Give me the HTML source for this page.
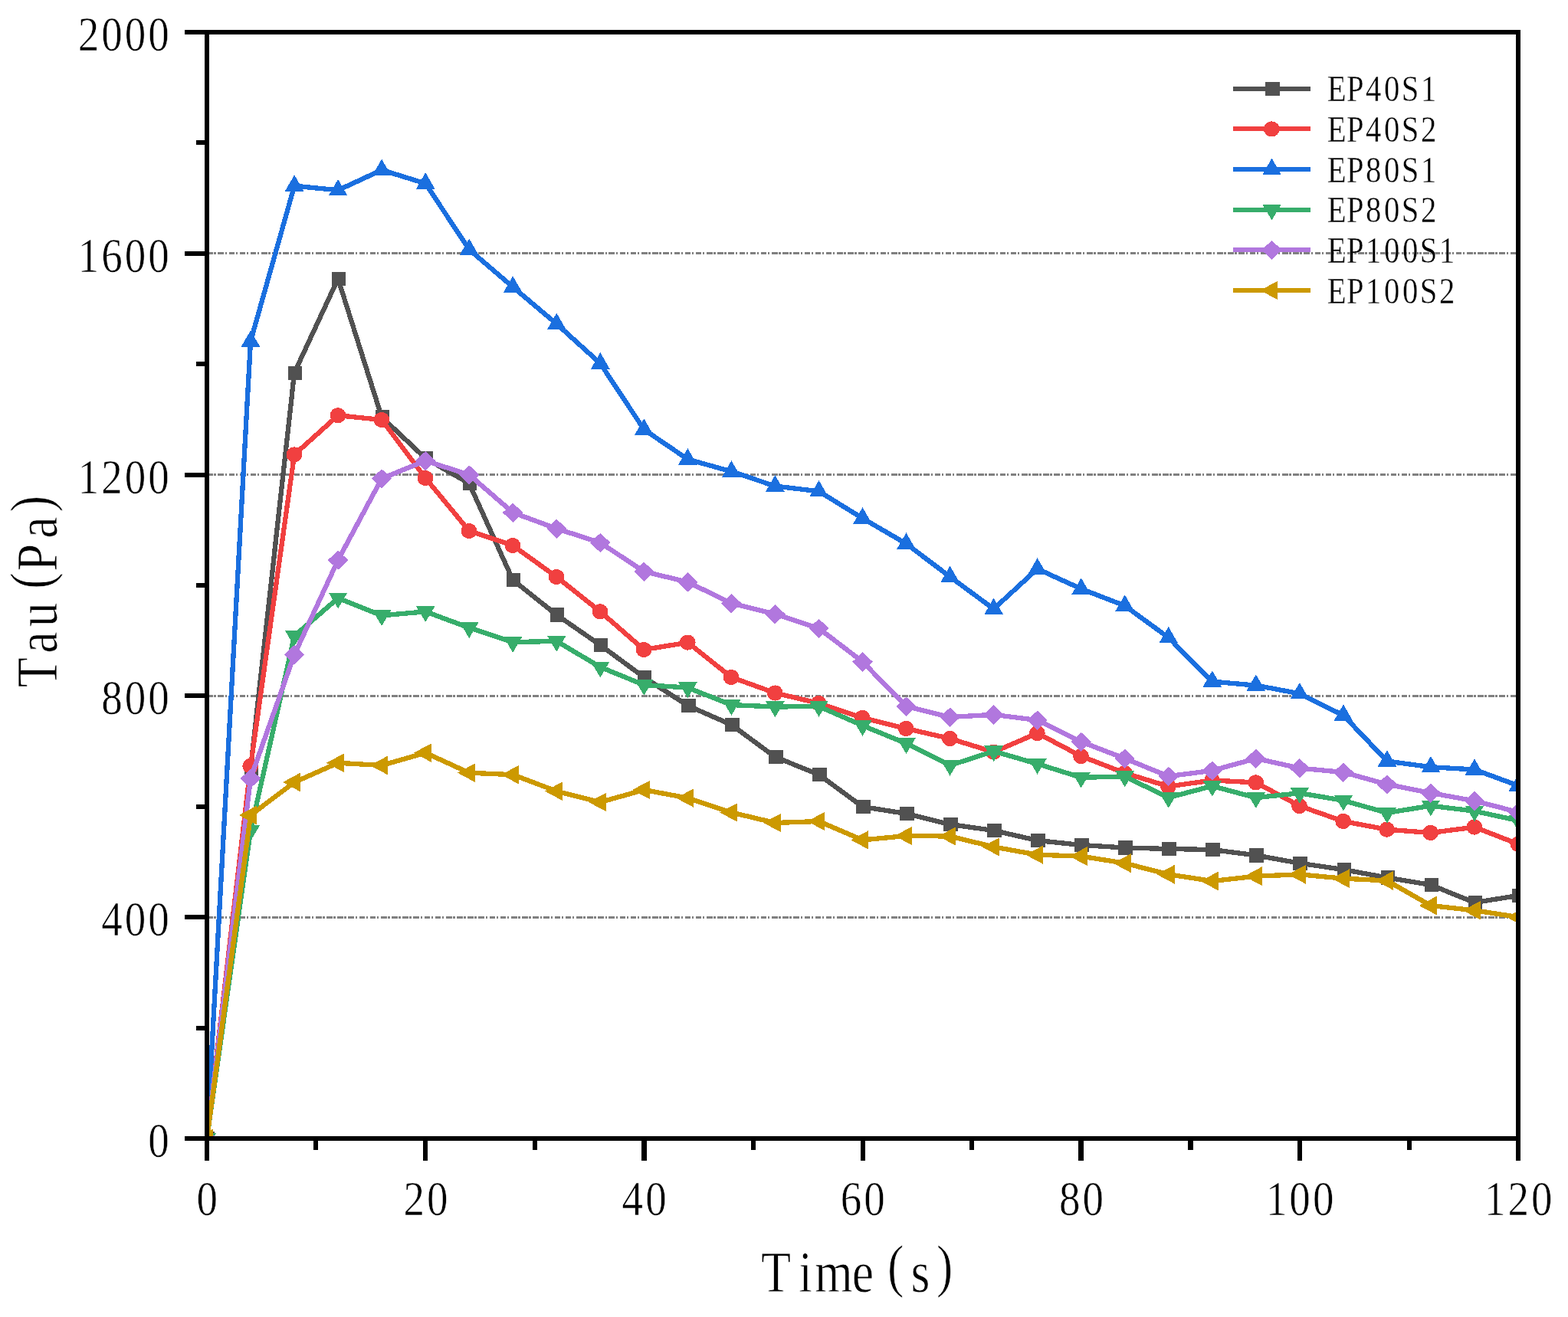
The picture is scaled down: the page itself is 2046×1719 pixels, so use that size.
<!DOCTYPE html>
<html lang="en"><head><meta charset="utf-8"><title>Tau vs Time</title>
<style>html,body{margin:0;padding:0;background:#fff}svg{display:block}text{font-family:"Liberation Serif","Noto Serif CJK SC",serif;fill:#000;stroke:#fff}.tk{font-size:62.5px;stroke-width:.6px}.ti{font-size:77px;stroke-width:.8px}.lg{font-size:49px;stroke-width:.4px}</style></head><body>
<svg width="2046" height="1719" viewBox="0 0 2046 1719">
<rect width="2046" height="1719" fill="#fff"/>
<defs>
<clipPath id="plot"><rect x="270" y="42" width="1711" height="1444"/></clipPath>
<rect id="sq" x="-8.4" y="-9.1" width="18.5" height="18.2"/>
<ellipse id="ci" cx="-0.2" rx="10.4" ry="10.1"/>
<path id="up" d="M0-14.3L12.3 7.1H-12.3Z"/>
<path id="dn" d="M0 13.7L12.3-7.1H-12.3Z"/>
<path id="di" d="M0-12.4L13.3 0 0 12.9-13.3 0Z"/>
<path id="lt" d="M-15.2 0L7.9-12.4V12.4Z"/>
</defs>
<g stroke="#808080" stroke-width="3" stroke-dasharray="7.6 1.6 2.4 2.57" fill="none" shape-rendering="crispEdges">
<path d="M270.2 1197.2H1978"/>
<path d="M270.2 908.4H1978"/>
<path d="M270.2 619.6H1978"/>
<path d="M270.2 330.8H1978"/>
</g>
<g clip-path="url(#plot)" shape-rendering="crispEdges">
<g fill="#515151" stroke="none">
<polyline points="270,1486 327,1003 384.1,486.6 441.1,363.8 498.1,544.5 555.2,598.2 612.2,631 669.2,757 726.3,802.5 783.3,842 840.3,884 897.4,921 954.4,946 1011.4,988 1068.5,1011 1125.5,1053 1182.5,1062 1239.6,1076 1296.6,1084 1353.6,1097 1410.7,1103 1467.7,1106.5 1524.7,1108 1581.8,1109 1638.8,1116.4 1695.8,1126.7 1752.9,1135 1809.9,1145.5 1866.9,1155 1924,1178 1981,1169" fill="none" stroke="#515151" stroke-width="6.3" stroke-linejoin="round"/>
<use href="#sq" x="270" y="1486"/>
<use href="#sq" x="327" y="1003"/>
<use href="#sq" x="384.1" y="486.6"/>
<use href="#sq" x="441.1" y="363.8"/>
<use href="#sq" x="498.1" y="544.5"/>
<use href="#sq" x="555.2" y="598.2"/>
<use href="#sq" x="612.2" y="631"/>
<use href="#sq" x="669.2" y="757"/>
<use href="#sq" x="726.3" y="802.5"/>
<use href="#sq" x="783.3" y="842"/>
<use href="#sq" x="840.3" y="884"/>
<use href="#sq" x="897.4" y="921"/>
<use href="#sq" x="954.4" y="946"/>
<use href="#sq" x="1011.4" y="988"/>
<use href="#sq" x="1068.5" y="1011"/>
<use href="#sq" x="1125.5" y="1053"/>
<use href="#sq" x="1182.5" y="1062"/>
<use href="#sq" x="1239.6" y="1076"/>
<use href="#sq" x="1296.6" y="1084"/>
<use href="#sq" x="1353.6" y="1097"/>
<use href="#sq" x="1410.7" y="1103"/>
<use href="#sq" x="1467.7" y="1106.5"/>
<use href="#sq" x="1524.7" y="1108"/>
<use href="#sq" x="1581.8" y="1109"/>
<use href="#sq" x="1638.8" y="1116.4"/>
<use href="#sq" x="1695.8" y="1126.7"/>
<use href="#sq" x="1752.9" y="1135"/>
<use href="#sq" x="1809.9" y="1145.5"/>
<use href="#sq" x="1866.9" y="1155"/>
<use href="#sq" x="1924" y="1178"/>
<use href="#sq" x="1981" y="1169"/>
</g>
<g fill="#F14040" stroke="none">
<polyline points="270,1486 327,1000 384.1,593.4 441.1,542.2 498.1,548 555.2,624 612.2,693 669.2,712 726.3,753 783.3,798.3 840.3,848 897.4,838.6 954.4,884 1011.4,904.5 1068.5,918 1125.5,937 1182.5,951 1239.6,964 1296.6,981.6 1353.6,957 1410.7,987 1467.7,1009 1524.7,1026.5 1581.8,1018.5 1638.8,1021.4 1695.8,1052 1752.9,1072 1809.9,1082.7 1866.9,1087 1924,1079.6 1981,1101.7" fill="none" stroke="#F14040" stroke-width="6.3" stroke-linejoin="round"/>
<use href="#ci" x="270" y="1486"/>
<use href="#ci" x="327" y="1000"/>
<use href="#ci" x="384.1" y="593.4"/>
<use href="#ci" x="441.1" y="542.2"/>
<use href="#ci" x="498.1" y="548"/>
<use href="#ci" x="555.2" y="624"/>
<use href="#ci" x="612.2" y="693"/>
<use href="#ci" x="669.2" y="712"/>
<use href="#ci" x="726.3" y="753"/>
<use href="#ci" x="783.3" y="798.3"/>
<use href="#ci" x="840.3" y="848"/>
<use href="#ci" x="897.4" y="838.6"/>
<use href="#ci" x="954.4" y="884"/>
<use href="#ci" x="1011.4" y="904.5"/>
<use href="#ci" x="1068.5" y="918"/>
<use href="#ci" x="1125.5" y="937"/>
<use href="#ci" x="1182.5" y="951"/>
<use href="#ci" x="1239.6" y="964"/>
<use href="#ci" x="1296.6" y="981.6"/>
<use href="#ci" x="1353.6" y="957"/>
<use href="#ci" x="1410.7" y="987"/>
<use href="#ci" x="1467.7" y="1009"/>
<use href="#ci" x="1524.7" y="1026.5"/>
<use href="#ci" x="1581.8" y="1018.5"/>
<use href="#ci" x="1638.8" y="1021.4"/>
<use href="#ci" x="1695.8" y="1052"/>
<use href="#ci" x="1752.9" y="1072"/>
<use href="#ci" x="1809.9" y="1082.7"/>
<use href="#ci" x="1866.9" y="1087"/>
<use href="#ci" x="1924" y="1079.6"/>
<use href="#ci" x="1981" y="1101.7"/>
</g>
<g fill="#1A6FDF" stroke="none">
<polyline points="270,1486 327,445.5 384.1,242.6 441.1,248.3 498.1,221.9 555.2,239.5 612.2,325.7 669.2,374.6 726.3,422.8 783.3,474.4 840.3,560.6 897.4,599.5 954.4,615.4 1011.4,634.5 1068.5,641.3 1125.5,676.5 1182.5,709.7 1239.6,752.8 1296.6,794.8 1353.6,742.5 1410.7,768.6 1467.7,790.6 1524.7,832.2 1581.8,889.6 1638.8,894.6 1695.8,905.3 1752.9,933.7 1809.9,993.5 1866.9,1001.2 1924,1004.5 1981,1025.4" fill="none" stroke="#1A6FDF" stroke-width="6.3" stroke-linejoin="round"/>
<use href="#up" x="270" y="1486"/>
<use href="#up" x="327" y="445.5"/>
<use href="#up" x="384.1" y="242.6"/>
<use href="#up" x="441.1" y="248.3"/>
<use href="#up" x="498.1" y="221.9"/>
<use href="#up" x="555.2" y="239.5"/>
<use href="#up" x="612.2" y="325.7"/>
<use href="#up" x="669.2" y="374.6"/>
<use href="#up" x="726.3" y="422.8"/>
<use href="#up" x="783.3" y="474.4"/>
<use href="#up" x="840.3" y="560.6"/>
<use href="#up" x="897.4" y="599.5"/>
<use href="#up" x="954.4" y="615.4"/>
<use href="#up" x="1011.4" y="634.5"/>
<use href="#up" x="1068.5" y="641.3"/>
<use href="#up" x="1125.5" y="676.5"/>
<use href="#up" x="1182.5" y="709.7"/>
<use href="#up" x="1239.6" y="752.8"/>
<use href="#up" x="1296.6" y="794.8"/>
<use href="#up" x="1353.6" y="742.5"/>
<use href="#up" x="1410.7" y="768.6"/>
<use href="#up" x="1467.7" y="790.6"/>
<use href="#up" x="1524.7" y="832.2"/>
<use href="#up" x="1581.8" y="889.6"/>
<use href="#up" x="1638.8" y="894.6"/>
<use href="#up" x="1695.8" y="905.3"/>
<use href="#up" x="1752.9" y="933.7"/>
<use href="#up" x="1809.9" y="993.5"/>
<use href="#up" x="1866.9" y="1001.2"/>
<use href="#up" x="1924" y="1004.5"/>
<use href="#up" x="1981" y="1025.4"/>
</g>
<g fill="#37AD6B" stroke="none">
<polyline points="270,1486 327,1084 384.1,830 441.1,780.7 498.1,803.4 555.2,798.3 612.2,819.4 669.2,838.1 726.3,836.9 783.3,870.7 840.3,894 897.4,897.6 954.4,920.1 1011.4,922.5 1068.5,922 1125.5,947 1182.5,970.4 1239.6,999 1296.6,980.6 1353.6,997 1410.7,1014.8 1467.7,1013.6 1524.7,1041 1581.8,1026 1638.8,1041.2 1695.8,1035.2 1752.9,1044.8 1809.9,1061 1866.9,1051.7 1924,1058.7 1981,1071" fill="none" stroke="#37AD6B" stroke-width="6.3" stroke-linejoin="round"/>
<use href="#dn" x="270" y="1486"/>
<use href="#dn" x="327" y="1084"/>
<use href="#dn" x="384.1" y="830"/>
<use href="#dn" x="441.1" y="780.7"/>
<use href="#dn" x="498.1" y="803.4"/>
<use href="#dn" x="555.2" y="798.3"/>
<use href="#dn" x="612.2" y="819.4"/>
<use href="#dn" x="669.2" y="838.1"/>
<use href="#dn" x="726.3" y="836.9"/>
<use href="#dn" x="783.3" y="870.7"/>
<use href="#dn" x="840.3" y="894"/>
<use href="#dn" x="897.4" y="897.6"/>
<use href="#dn" x="954.4" y="920.1"/>
<use href="#dn" x="1011.4" y="922.5"/>
<use href="#dn" x="1068.5" y="922"/>
<use href="#dn" x="1125.5" y="947"/>
<use href="#dn" x="1182.5" y="970.4"/>
<use href="#dn" x="1239.6" y="999"/>
<use href="#dn" x="1296.6" y="980.6"/>
<use href="#dn" x="1353.6" y="997"/>
<use href="#dn" x="1410.7" y="1014.8"/>
<use href="#dn" x="1467.7" y="1013.6"/>
<use href="#dn" x="1524.7" y="1041"/>
<use href="#dn" x="1581.8" y="1026"/>
<use href="#dn" x="1638.8" y="1041.2"/>
<use href="#dn" x="1695.8" y="1035.2"/>
<use href="#dn" x="1752.9" y="1044.8"/>
<use href="#dn" x="1809.9" y="1061"/>
<use href="#dn" x="1866.9" y="1051.7"/>
<use href="#dn" x="1924" y="1058.7"/>
<use href="#dn" x="1981" y="1071"/>
</g>
<g fill="#B177DE" stroke="none">
<polyline points="270,1486 327,1016 384.1,854.4 441.1,731 498.1,624.6 555.2,601.4 612.2,619.7 669.2,669 726.3,690 783.3,708.3 840.3,746 897.4,759.7 954.4,787.5 1011.4,801.5 1068.5,820.2 1125.5,863.7 1182.5,922 1239.6,936 1296.6,932.8 1353.6,940 1410.7,968.2 1467.7,990 1524.7,1013.2 1581.8,1005.8 1638.8,990 1695.8,1002.6 1752.9,1008 1809.9,1023.8 1866.9,1035 1924,1045.4 1981,1060" fill="none" stroke="#B177DE" stroke-width="6.3" stroke-linejoin="round"/>
<use href="#di" x="270" y="1486"/>
<use href="#di" x="327" y="1016"/>
<use href="#di" x="384.1" y="854.4"/>
<use href="#di" x="441.1" y="731"/>
<use href="#di" x="498.1" y="624.6"/>
<use href="#di" x="555.2" y="601.4"/>
<use href="#di" x="612.2" y="619.7"/>
<use href="#di" x="669.2" y="669"/>
<use href="#di" x="726.3" y="690"/>
<use href="#di" x="783.3" y="708.3"/>
<use href="#di" x="840.3" y="746"/>
<use href="#di" x="897.4" y="759.7"/>
<use href="#di" x="954.4" y="787.5"/>
<use href="#di" x="1011.4" y="801.5"/>
<use href="#di" x="1068.5" y="820.2"/>
<use href="#di" x="1125.5" y="863.7"/>
<use href="#di" x="1182.5" y="922"/>
<use href="#di" x="1239.6" y="936"/>
<use href="#di" x="1296.6" y="932.8"/>
<use href="#di" x="1353.6" y="940"/>
<use href="#di" x="1410.7" y="968.2"/>
<use href="#di" x="1467.7" y="990"/>
<use href="#di" x="1524.7" y="1013.2"/>
<use href="#di" x="1581.8" y="1005.8"/>
<use href="#di" x="1638.8" y="990"/>
<use href="#di" x="1695.8" y="1002.6"/>
<use href="#di" x="1752.9" y="1008"/>
<use href="#di" x="1809.9" y="1023.8"/>
<use href="#di" x="1866.9" y="1035"/>
<use href="#di" x="1924" y="1045.4"/>
<use href="#di" x="1981" y="1060"/>
</g>
<g fill="#CC9900" stroke="none">
<polyline points="270,1486 327,1064 384.1,1021 441.1,995.8 498.1,999 555.2,982.6 612.2,1008.7 669.2,1011.2 726.3,1032.7 783.3,1047 840.3,1031 897.4,1041.6 954.4,1060.5 1011.4,1074 1068.5,1072 1125.5,1096.4 1182.5,1091 1239.6,1091.5 1296.6,1105.4 1353.6,1115.7 1410.7,1117.6 1467.7,1126.7 1524.7,1141.3 1581.8,1150 1638.8,1143.7 1695.8,1141.3 1752.9,1146.7 1809.9,1149.4 1866.9,1182 1924,1188.3 1981,1197" fill="none" stroke="#CC9900" stroke-width="6.3" stroke-linejoin="round"/>
<use href="#lt" x="270" y="1486"/>
<use href="#lt" x="327" y="1064"/>
<use href="#lt" x="384.1" y="1021"/>
<use href="#lt" x="441.1" y="995.8"/>
<use href="#lt" x="498.1" y="999"/>
<use href="#lt" x="555.2" y="982.6"/>
<use href="#lt" x="612.2" y="1008.7"/>
<use href="#lt" x="669.2" y="1011.2"/>
<use href="#lt" x="726.3" y="1032.7"/>
<use href="#lt" x="783.3" y="1047"/>
<use href="#lt" x="840.3" y="1031"/>
<use href="#lt" x="897.4" y="1041.6"/>
<use href="#lt" x="954.4" y="1060.5"/>
<use href="#lt" x="1011.4" y="1074"/>
<use href="#lt" x="1068.5" y="1072"/>
<use href="#lt" x="1125.5" y="1096.4"/>
<use href="#lt" x="1182.5" y="1091"/>
<use href="#lt" x="1239.6" y="1091.5"/>
<use href="#lt" x="1296.6" y="1105.4"/>
<use href="#lt" x="1353.6" y="1115.7"/>
<use href="#lt" x="1410.7" y="1117.6"/>
<use href="#lt" x="1467.7" y="1126.7"/>
<use href="#lt" x="1524.7" y="1141.3"/>
<use href="#lt" x="1581.8" y="1150"/>
<use href="#lt" x="1638.8" y="1143.7"/>
<use href="#lt" x="1695.8" y="1141.3"/>
<use href="#lt" x="1752.9" y="1146.7"/>
<use href="#lt" x="1809.9" y="1149.4"/>
<use href="#lt" x="1866.9" y="1182"/>
<use href="#lt" x="1924" y="1188.3"/>
<use href="#lt" x="1981" y="1197"/>
</g>
</g>
<g stroke="#000" stroke-width="6" fill="none" shape-rendering="crispEdges">
<path d="M241 42H1984M241 1486H1984M270 39V1515M1981 39V1515"/>
<path d="M241 1197.2H270M241 908.4H270M241 619.6H270M241 330.8H270M256 1341.6H270M256 1052.8H270M256 764H270M256 475.2H270M256 186.4H270"/>
<g fill="#000" stroke="none"><rect x="409" y="1486" width="6" height="15"/><rect x="552" y="1486" width="6" height="29"/><rect x="695" y="1486" width="6" height="15"/><rect x="837" y="1486" width="7" height="29"/><rect x="980" y="1486" width="6" height="15"/><rect x="1123" y="1486" width="6" height="29"/><rect x="1265" y="1486" width="6" height="15"/><rect x="1407" y="1486" width="7" height="29"/><rect x="1550" y="1486" width="7" height="15"/><rect x="1693" y="1486" width="6" height="29"/><rect x="1836" y="1486" width="6" height="15"/></g>
</g>
<g id="yticks">
<text class="tk" text-anchor="middle" transform="scale(0.88 1)" y="1510" x="235.3">0</text>
<text class="tk" text-anchor="middle" transform="scale(0.88 1)" y="1221.2" x="166 200.6 235.3">400</text>
<text class="tk" text-anchor="middle" transform="scale(0.88 1)" y="932.4" x="166 200.6 235.3">800</text>
<text class="tk" text-anchor="middle" transform="scale(0.88 1)" y="643.6" x="131.3 166 200.6 235.3">1200</text>
<text class="tk" text-anchor="middle" transform="scale(0.88 1)" y="354.8" x="131.3 166 200.6 235.3">1600</text>
<text class="tk" text-anchor="middle" transform="scale(0.88 1)" y="66" x="131.3 166 200.6 235.3">2000</text>
</g>
<g id="xticks">
<text class="tk" text-anchor="middle" transform="scale(0.88 1)" y="1586" x="307.2">0</text>
<text class="tk" text-anchor="middle" transform="scale(0.88 1)" y="1586" x="613.9 648.5">20</text>
<text class="tk" text-anchor="middle" transform="scale(0.88 1)" y="1586" x="937.9 972.6">40</text>
<text class="tk" text-anchor="middle" transform="scale(0.88 1)" y="1586" x="1262 1296.6">60</text>
<text class="tk" text-anchor="middle" transform="scale(0.88 1)" y="1586" x="1586 1620.7">80</text>
<text class="tk" text-anchor="middle" transform="scale(0.88 1)" y="1586" x="1892.8 1927.4 1962.1">100</text>
<text class="tk" text-anchor="middle" transform="scale(0.88 1)" y="1586" x="2216.8 2251.5 2286.1">120</text>
</g>
<text class="ti" text-anchor="middle" transform="scale(0.83 1)" y="1686 1686 1686 1686 1678.5 1686 1678.5" x="1219.8 1266.4 1310.6 1356.6 1408.1 1446.9 1485.1">Time(s)</text>
<text class="ti" text-anchor="middle" transform="translate(73.6 764.5) rotate(-90) scale(0.83 1)" y="0 0 0 -7.5 0 0 -7.5" x="-136.3 -89.4 -45.4 7.8 44.3 91.6 128.8">Tau(Pa)</text>
<g id="legend">
<g fill="#515151" shape-rendering="crispEdges"><path d="M1608.6 116H1710" stroke="#515151" stroke-width="6" fill="none"/><use href="#sq" x="1659.5" y="116"/></g>
<text class="lg" text-anchor="middle" transform="scale(0.83 1)" y="132.2" x="2101.4 2130.4 2159.3 2188.2 2217.1 2246">EP40S1</text>
<g fill="#F14040" shape-rendering="crispEdges"><path d="M1608.6 168.4H1710" stroke="#F14040" stroke-width="6" fill="none"/><use href="#ci" x="1659.5" y="168.4"/></g>
<text class="lg" text-anchor="middle" transform="scale(0.83 1)" y="184.9" x="2101.4 2130.4 2159.3 2188.2 2217.1 2246">EP40S2</text>
<g fill="#1A6FDF" shape-rendering="crispEdges"><path d="M1608.6 221H1710" stroke="#1A6FDF" stroke-width="6" fill="none"/><use href="#up" x="1659.5" y="221"/></g>
<text class="lg" text-anchor="middle" transform="scale(0.83 1)" y="237.6" x="2101.4 2130.4 2159.3 2188.2 2217.1 2246">EP80S1</text>
<g fill="#37AD6B" shape-rendering="crispEdges"><path d="M1608.6 273.8H1710" stroke="#37AD6B" stroke-width="6" fill="none"/><use href="#dn" x="1659.5" y="273.8"/></g>
<text class="lg" text-anchor="middle" transform="scale(0.83 1)" y="290.5" x="2101.4 2130.4 2159.3 2188.2 2217.1 2246">EP80S2</text>
<g fill="#B177DE" shape-rendering="crispEdges"><path d="M1608.6 326.3H1710" stroke="#B177DE" stroke-width="6" fill="none"/><use href="#di" x="1659.5" y="326.3"/></g>
<text class="lg" text-anchor="middle" transform="scale(0.83 1)" y="343" x="2101.4 2130.4 2159.3 2188.2 2217.1 2246 2274.9">EP100S1</text>
<g fill="#CC9900" shape-rendering="crispEdges"><path d="M1608.6 379H1710" stroke="#CC9900" stroke-width="6" fill="none"/><use href="#lt" x="1659.5" y="379"/></g>
<text class="lg" text-anchor="middle" transform="scale(0.83 1)" y="395.7" x="2101.4 2130.4 2159.3 2188.2 2217.1 2246 2274.9">EP100S2</text>
</g>
</svg></body></html>
